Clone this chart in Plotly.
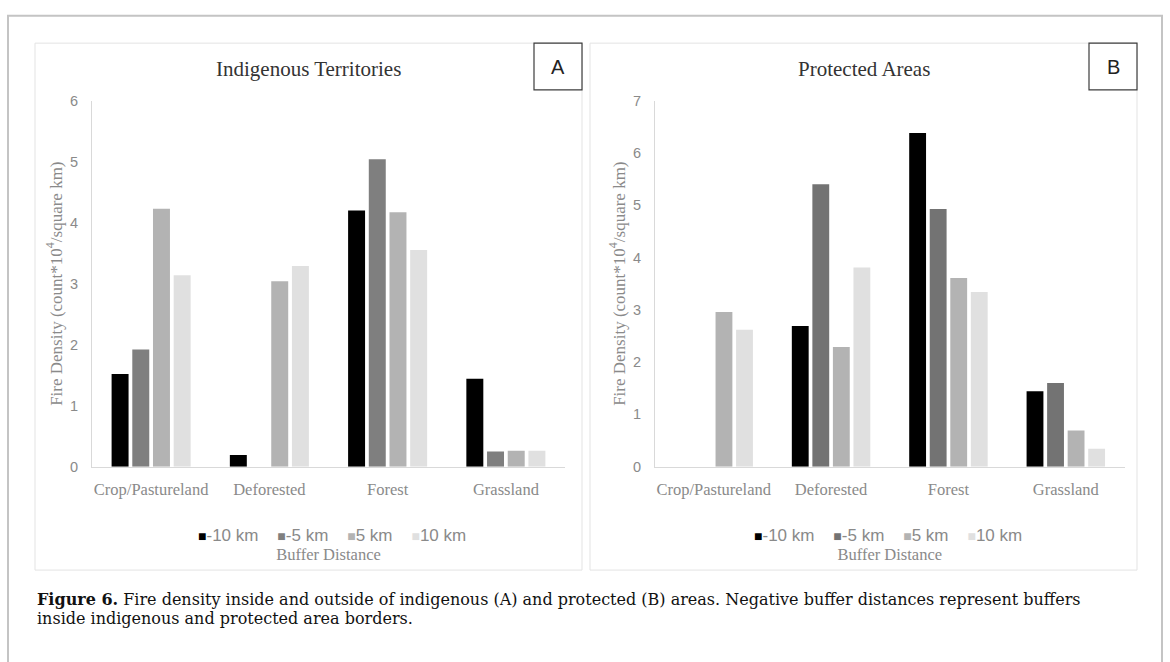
import plotly.graph_objects as go

# ---------------- data ----------------
categories = ["Crop/Pastureland", "Deforested", "Forest", "Grassland"]
buffers = ["-10 km", "-5 km", "5 km", "10 km"]

# Panel A: Indigenous Territories
indig_m10 = [1.52, 0.19, 4.20, 1.44]
indig_m5 = [1.92, 0.00, 5.04, 0.25]
indig_p5 = [4.23, 3.04, 4.17, 0.26]
indig_p10 = [3.14, 3.29, 3.55, 0.26]

# Panel B: Protected Areas
prot_m10 = [0.00, 2.69, 6.38, 1.44]
prot_m5 = [0.00, 5.40, 4.93, 1.60]
prot_p5 = [2.96, 2.29, 3.61, 0.69]
prot_p10 = [2.62, 3.81, 3.34, 0.34]

colors_a = ["#000000", "#7f7f7f", "#b3b3b3", "#e0e0e0"]
colors_b = ["#000000", "#737373", "#b3b3b3", "#e0e0e0"]

panel_titles = ["Indigenous Territories", "Protected Areas"]
panel_letters = ["A", "B"]
y_title = "Fire Density (count*10<sup>4</sup>/square km)"
legend_title = "Buffer Distance"
caption_1 = ("<b>Figure 6.</b> Fire density inside and outside of indigenous (A) and "
             "protected (B) areas. Negative buffer distances represent buffers")
caption_2 = "inside indigenous and protected area borders."

# ---------------- layout helpers ----------------
W, H = 1170, 662


def px(x):
    return x / W


def py(y):
    return 1 - y / H


SERIF = "Liberation Serif"
SANS = "Liberation Sans"
GRAY_TXT = "#8a8a8a"
AXIS_LINE = "#d9d9d9"

fig = go.Figure()

series_a = [indig_m10, indig_m5, indig_p5, indig_p10]
series_b = [prot_m10, prot_m5, prot_p5, prot_p10]

for name, vals, col in zip(buffers, series_a, colors_a):
    fig.add_trace(go.Bar(x=categories, y=vals, name=name,
                         marker=dict(color=col, line=dict(width=0)),
                         xaxis="x", yaxis="y", showlegend=False))
for name, vals, col in zip(buffers, series_b, colors_b):
    fig.add_trace(go.Bar(x=categories, y=vals, name=name,
                         marker=dict(color=col, line=dict(width=0)),
                         xaxis="x2", yaxis="y2", showlegend=False))

ydom = [py(470), py(95)]
xdom_a = [px(92), px(565)]
xdom_b = [px(655), px(1124.5)]

xaxis_common = dict(type="category", showline=True, linecolor=AXIS_LINE, linewidth=1,
                    showgrid=False, zeroline=False, ticks="",
                    tickfont=dict(family=SERIF, size=16.5, color=GRAY_TXT),
                    ticklabelstandoff=8, fixedrange=True,
                    title=dict(text=legend_title, standoff=50,
                               font=dict(family=SERIF, size=16.5, color=GRAY_TXT)))
yaxis_common = dict(showline=True, linecolor=AXIS_LINE, linewidth=1, showgrid=False,
                    zeroline=False, ticks="", dtick=1,
                    tickfont=dict(family=SANS, size=14.5, color=GRAY_TXT),
                    ticklabelstandoff=10, fixedrange=True,
                    title=dict(text=y_title, standoff=3,
                               font=dict(family=SERIF, size=17, color=GRAY_TXT)))

fig.update_layout(
    width=W, height=H,
    margin=dict(l=0, r=0, t=0, b=0),
    paper_bgcolor="white", plot_bgcolor="white",
    barmode="group", bargap=0.30, bargroupgap=0.18,
    xaxis=dict(domain=xdom_a, anchor="y", **xaxis_common),
    yaxis=dict(domain=ydom, anchor="x", range=[0, 6], **yaxis_common),
    xaxis2=dict(domain=xdom_b, anchor="y2", **xaxis_common),
    yaxis2=dict(domain=ydom, anchor="x2", range=[0, 7], **yaxis_common),
    showlegend=False,
)

shapes = []
# outer frame
shapes.append(dict(type="rect", xref="paper", yref="paper", x0=px(8), x1=px(1162), y0=-0.05, y1=py(8),
                   line=dict(color="#c4c4c4", width=2), fillcolor="rgba(0,0,0,0)", layer="below"))
# panel frames
for (x0, x1) in [(35, 582), (590, 1137)]:
    shapes.append(dict(type="rect", xref="paper", yref="paper", x0=px(x0), x1=px(x1), y0=py(576), y1=py(36),
                       line=dict(color="#e3e3e3", width=1), fillcolor="rgba(0,0,0,0)", layer="below"))
# letter boxes
for (x0, x1) in [(534, 582), (1089, 1137)]:
    shapes.append(dict(type="rect", xref="paper", yref="paper", x0=px(x0), x1=px(x1), y0=py(84), y1=py(36),
                       line=dict(color="#3c3c3c", width=1.2), fillcolor="white", layer="above"))
fig.update_layout(shapes=shapes)

ann = []
# panel titles
for title, cx in zip(panel_titles, [308, 864]):
    ann.append(dict(text=title, x=px(cx), y=py(62), xref="paper", yref="paper", showarrow=False,
                    xanchor="center", yanchor="middle", font=dict(family=SERIF, size=21, color="#333333")))
# panel letters
for letter, cx in zip(panel_letters, [558, 1113]):
    ann.append(dict(text=letter, x=px(cx), y=py(60), xref="paper", yref="paper", showarrow=False,
                    xanchor="center", yanchor="middle", font=dict(family=SANS, size=20, color="#222222")))

# legends (built from series names and colors)
for cols, cx in [(colors_a, 332), (colors_b, 888)]:
    parts = [f"<span style='color:{c};font-size:14px'>■</span>{n}" for n, c in zip(buffers, cols)]
    ann.append(dict(text="\u00a0\u00a0\u00a0\u00a0".join(parts), x=px(cx), y=py(541), xref="paper", yref="paper",
                    showarrow=False, xanchor="center", yanchor="middle",
                    font=dict(family=SANS, size=17, color=GRAY_TXT)))

# caption
for txt, cy in [(caption_1, 606), (caption_2, 626)]:
    ann.append(dict(text=txt, x=px(35), y=py(cy), xref="paper", yref="paper", showarrow=False,
                    xanchor="left", yanchor="middle", align="left",
                    font=dict(family="DejaVu Serif", size=16, color="#111111")))

fig.update_layout(annotations=ann)

fig.write_html("out.html")
